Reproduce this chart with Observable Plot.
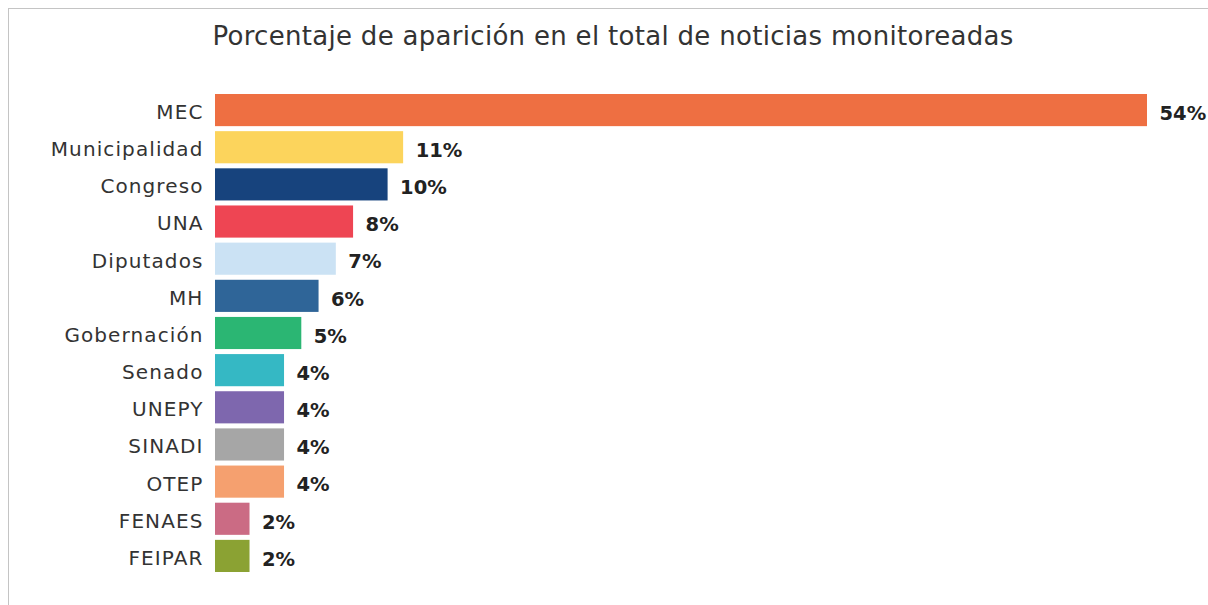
<!DOCTYPE html>
<html>
<head>
<meta charset="utf-8">
<script src="https://cdn.jsdelivr.net/npm/d3@7"></script>
<script src="https://cdn.jsdelivr.net/npm/@observablehq/plot@0.6"></script>
<style>
  html, body { margin: 0; padding: 0; background: #fff; }
  #wrap { position: relative; width: 1208px; height: 605px; overflow: hidden; }
  #frame { position: absolute; left: 8px; top: 8px; width: 1210px; height: 610px;
           border-left: 1.5px solid #c4c4c4; border-top: 1.5px solid #c4c4c4; box-sizing: border-box; }
  #title { position: absolute; top: 21px; left: 0; width: 1226px; text-align: center;
           font-family: "DejaVu Sans", sans-serif; font-size: 26px; letter-spacing: 0.3px; color: #333; white-space: nowrap; }
  #chart { position: absolute; left: 0; top: 0; }
  #chart .ylab text { letter-spacing: 1.1px; }
</style>
</head>
<body>
<div id="wrap">
  <div id="frame"></div>
  <div id="chart"></div>
  <div id="title">Porcentaje de aparición en el total de noticias monitoreadas</div>
</div>
<script>
const categories = ["MEC","Municipalidad","Congreso","UNA","Diputados","MH","Gobernación","Senado","UNEPY","SINADI","OTEP","FENAES","FEIPAR"];
const values = [54, 10.9, 10, 8, 7, 6, 5, 4, 4, 4, 4, 2, 2];
const labels = ["54%","11%","10%","8%","7%","6%","5%","4%","4%","4%","4%","2%","2%"];
const colors = ["#EE6F42","#FCD45C","#17437D","#EE4553","#CBE2F4","#2F6598","#2BB673","#35B8C4","#7E67AE","#A6A6A6","#F5A06F","#CB6B84","#8BA233"];

const data = categories.map((c, i) => ({cat: c, value: values[i], label: labels[i], color: colors[i]}));

const chart = Plot.plot({
  width: 1208,
  height: 605,
  marginLeft: 215,
  marginRight: 61,
  marginTop: 91.5,
  marginBottom: 30.5,
  style: {background: "transparent", fontFamily: "DejaVu Sans, sans-serif"},
  x: {domain: [0, 54], axis: null},
  y: {domain: categories, paddingInner: 0.135, paddingOuter: 0.0675, round: false, label: null},
  marks: [
    Plot.barX(data, {y: "cat", x: "value", fill: "color"}),
    Plot.axisY({tickSize: 0, tickPadding: 12, fontSize: 20, fill: "#333", dy: 2, label: null, className: "ylab"}),
    Plot.text(data, {y: "cat", x: "value", text: "label", textAnchor: "start", dx: 12, dy: 3,
      fontSize: 19.5, fontWeight: "bold", fill: "#222"})
  ]
});
document.getElementById("chart").appendChild(chart);
</script>
</body>
</html>
